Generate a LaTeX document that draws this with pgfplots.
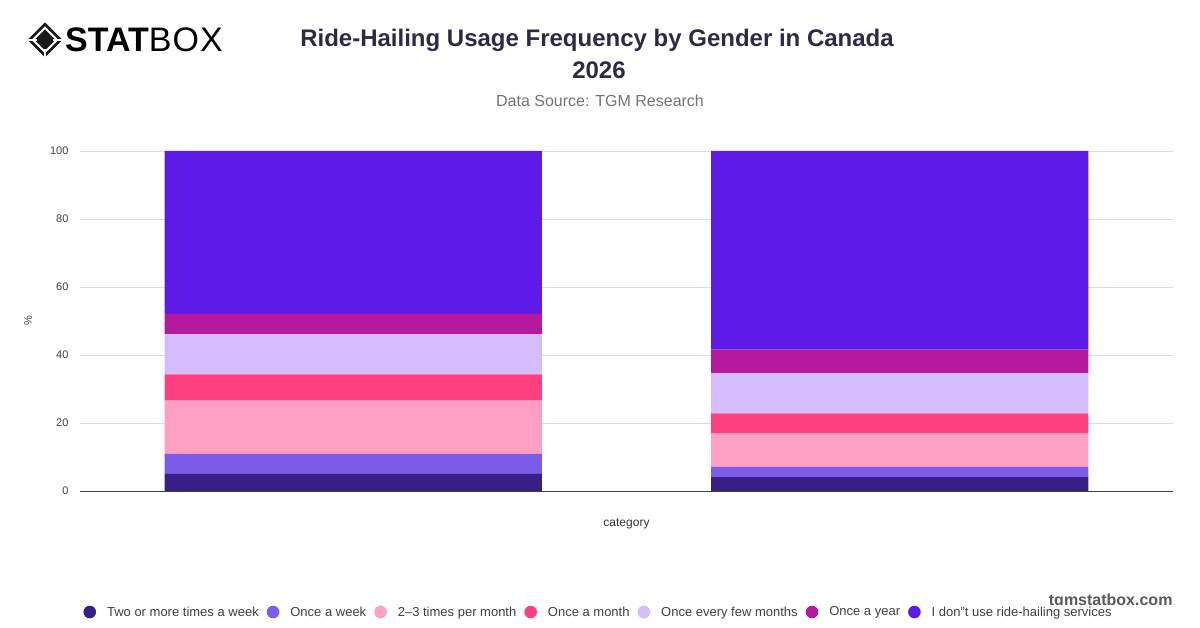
\documentclass[border=0pt]{standalone}
\usepackage{pgfplots}
\pgfplotsset{compat=1.18}
\usepackage{fontspec}
\setmainfont{Liberation Sans}
\definecolor{c1}{HTML}{381E87}
\definecolor{c2}{HTML}{7B5CE8}
\definecolor{c3}{HTML}{FFA0C2}
\definecolor{c4}{HTML}{FF4080}
\definecolor{c5}{HTML}{D5BCFC}
\definecolor{c6}{HTML}{B51A9E}
\definecolor{c7}{HTML}{5E1BE8}
\definecolor{titlec}{HTML}{2D2A46}
\definecolor{gridc}{HTML}{DDDDDD}
\begin{document}
\begin{tikzpicture}[x=1bp,y=1bp]
\useasboundingbox (0,0) rectangle (1200,628);
% logo
\begin{scope}[shift={(45,588)}]
\fill[black!90] (0,17.5) -- (17.5,0) -- (0,-17.5) -- (-17.5,0) -- cycle;
\fill[white] (0,13.5) -- (13.5,0) -- (0,-13.5) -- (-13.5,0) -- cycle;
\fill[black!90] (0,10.5) -- (10.5,0) -- (0,-10.5) -- (-10.5,0) -- cycle;
\draw[white,line width=1.6bp] (-17.5,0) -- (-8,0) (17.5,0) -- (8,0) (0,-17.5)--(0,-9);
\end{scope}
\node[anchor=west,inner sep=0] at (65,588) {\fontsize{34bp}{36bp}\selectfont\textbf{STAT}\addfontfeatures{LetterSpace=3}BOX};
% titles
\node[text=titlec,font=\fontsize{24bp}{28bp}\selectfont\bfseries] at (597,588) {Ride-Hailing Usage Frequency by Gender in Canada};
\node[text=titlec,font=\fontsize{24bp}{28bp}\selectfont\bfseries] at (599,558) {2026};
\node[text=black!55,font=\fontsize{16bp}{18bp}\selectfont] at (600,527) {Data Source: TGM Research};
\node[text=black!65,font=\fontsize{16bp}{18bp}\selectfont\bfseries,anchor=east] at (1176,27) {tgmstatbox.com};
\begin{axis}[
  at={(80bp,137bp)}, anchor=south west,
  scale only axis, width=1093bp, height=340bp,
  ybar stacked, bar width=0.69,
  xmin=-0.5, xmax=1.5, ymin=0, ymax=100,
  xtick={0,1}, xticklabels={,},
  ytick={0,20,40,60,80,100},
  major tick length=0,
  axis x line*=bottom, axis y line*=left,
  y axis line style={draw=none},
  x axis line style={black!75, line width=0.8bp},
  ymajorgrids, grid style={gridc, line width=0.7bp},
  /pgf/number format/assume math mode=true,
  yticklabel style={font=\fontsize{11bp}{13bp}\selectfont, text=black!75, xshift=-8bp},
  yticklabel={\pgfmathprintnumber{\tick}},
  xlabel={category}, xlabel style={font=\fontsize{12bp}{14bp}\selectfont, text=black!80, at={(axis description cs:0.5,0)}, anchor=center, yshift=-33bp},
  ylabel={\%}, ylabel style={font=\fontsize{11bp}{13bp}\selectfont, text=black!75, at={(axis description cs:0,0.5)}, anchor=center, yshift=52bp},
  every axis plot/.append style={draw=none},
  legend columns=7,
  legend style={at={(rel axis cs:0.003,-0.356)}, anchor=west, draw=none, inner sep=0pt,
    font=\fontsize{13bp}{15bp}\selectfont, text=black!75,
    /tikz/every even column/.append style={column sep=6bp},
    /tikz/every odd column/.append style={column sep=9bp}},
  legend image code/.code={\path[fill] (6bp,0bp) circle (6.3bp);},
]
\addplot+[fill=c1] coordinates {(0,5.0) (1,4.1)};
\addplot+[fill=c2] coordinates {(0,5.9) (1,3.0)};
\addplot+[fill=c3] coordinates {(0,15.7) (1,9.8)};
\addplot+[fill=c4] coordinates {(0,7.7) (1,5.9)};
\addplot+[fill=c5] coordinates {(0,11.8) (1,11.8)};
\addplot+[fill=c6] coordinates {(0,6.0) (1,7.0)};
\addplot+[fill=c7] coordinates {(0,47.9) (1,58.4)};
\legend{Two or more times a week, Once a week, 2–3 times per month, Once a month, Once every few months, Once a year, I don"t use ride-hailing services}
\end{axis}
\end{tikzpicture}
\end{document}
